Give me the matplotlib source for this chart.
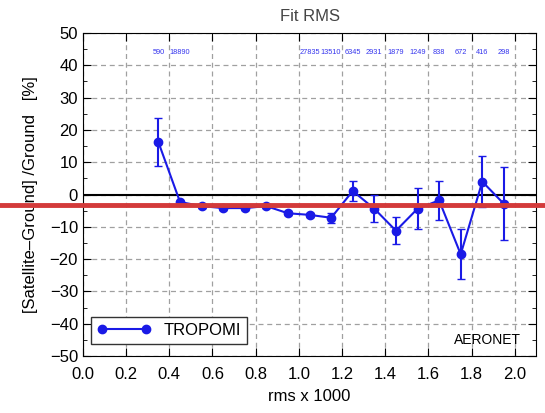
import numpy as np
import matplotlib.pyplot as plt
from matplotlib.lines import Line2D
from matplotlib.ticker import MultipleLocator

plt.rcParams['font.family'] = ['Liberation Sans', 'DejaVu Sans']

# --- data ---
rms = [0.35, 0.45, 0.55, 0.65, 0.75, 0.85, 0.95, 1.05, 1.15,
       1.25, 1.35, 1.45, 1.55, 1.65, 1.75, 1.85, 1.95]
bias = [16.2, -2.3, -3.6, -4.2, -4.2, -3.6, -5.8, -6.3, -7.2,
        1.1, -4.4, -11.2, -4.4, -1.8, -18.5, 4.0, -2.9]
err = [7.5, 0.4, 0.5, 0.5, 0.5, 0.6, 0.6, 0.7, 1.5,
       3.2, 4.1, 4.2, 6.3, 6.1, 7.8, 8.0, 11.3]
counts = ['590', '18890', '', '', '', '', '', '27835', '13510',
          '6345', '2931', '1879', '1249', '838', '672', '416', '298']

blue = '#1a1ae6'

fig = plt.figure(figsize=(5.45, 4.13), dpi=100)
ax = fig.add_axes([0.152, 0.138, 0.832, 0.782])

ax.errorbar(rms, bias, yerr=err, color=blue, marker='o', markersize=6,
            lw=1.5, capsize=3, elinewidth=1.5, zorder=3)
ax.axhline(0, color='black', lw=1.5, zorder=2)

for x, c in zip(rms, counts):
    if c:
        ax.text(x, 0.94, c, transform=ax.get_xaxis_transform(),
                ha='center', va='center', fontsize=5.3, color='#3535ee')

ax.set_xlim(0, 2.1)
ax.set_ylim(-50, 50)
ax.set_xticks(np.arange(0, 2.01, 0.2))
ax.set_xticklabels([f'{v:.1f}' for v in np.arange(0, 2.01, 0.2)])
ax.set_yticks(np.arange(-50, 51, 10))
ax.yaxis.set_minor_locator(MultipleLocator(5))
ax.tick_params(direction='in', which='both', top=True, right=True, labelsize=12)
ax.tick_params(which='major', length=6)
ax.tick_params(which='minor', length=3)
ax.tick_params(axis='x', pad=8)
ax.grid(True, which='major', color='#a0a0a0', ls=(0, (4, 3)), lw=0.9)

ax.set_title('Fit RMS', fontsize=12, color='#444444', pad=9)
ax.set_xlabel('rms x 1000', fontsize=12, labelpad=5)
ax.set_ylabel('[Satellite\u2013Ground] /Ground   [%]', fontsize=12, labelpad=8)

ax.text(0.967, 0.028, 'AERONET', transform=ax.transAxes, ha='right',
        va='bottom', fontsize=10)

handle = Line2D([], [], color=blue, marker='o', markersize=6, lw=1.5)
leg = ax.legend([handle], ['TROPOMI'], loc='lower left',
                bbox_to_anchor=(0.019, 0.037), fontsize=12, numpoints=2,
                frameon=True, fancybox=False, handlelength=3.2,
                borderaxespad=0, borderpad=0.35, framealpha=1)
leg.get_frame().set_edgecolor('#333333')

# red horizontal band across the whole figure
fig.add_artist(Line2D([0, 1], [0.504, 0.504], transform=fig.transFigure,
                      color='#d33a3a', lw=3.5))

fig.savefig('out.png', dpi=100)
